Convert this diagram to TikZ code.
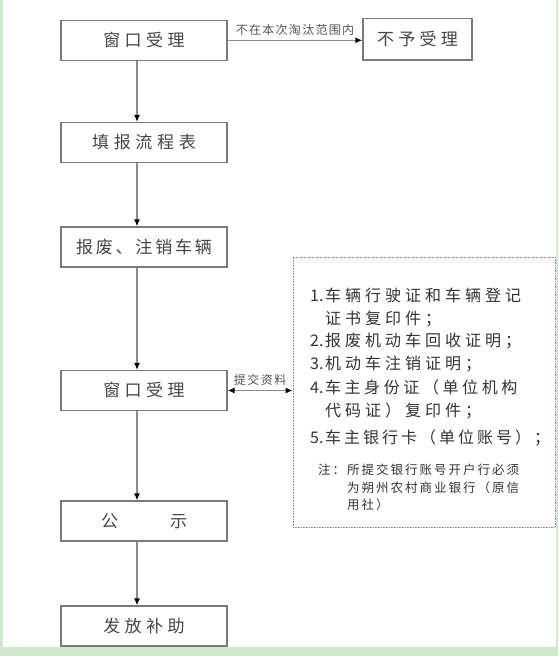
\documentclass[tikz,border=0pt]{standalone}
\usepackage{fontspec}
\setmainfont{Noto Sans CJK SC}
\usetikzlibrary{arrows.meta}
\definecolor{bggreen}{HTML}{CFE8CC}
\definecolor{boxgray}{HTML}{7A7A7A}
\definecolor{linegray}{HTML}{8C8C8C}
\definecolor{txtgray}{HTML}{454545}
\definecolor{listtxt}{HTML}{333333}
\definecolor{lbltxt}{HTML}{555555}
\makeatletter
\newcommand\spx[2]{\def\spx@a{#1}\spx@first#2\spx@end}
\def\spx@end{\spx@end}
\def\spx@first#1{#1\spx@loop}
\def\spx@loop#1{\ifx#1\spx@end\else\hspace{\spx@a}#1\expandafter\spx@loop\fi}
\makeatother
\begin{document}
\begin{tikzpicture}[x=1pt,y=-1pt,
  box/.style={draw=boxgray, line width=1.2pt, minimum width=166pt, minimum height=40pt, inner sep=0pt, font=\fontsize{17}{20}\selectfont, text=txtgray},
  conn/.style={draw=linegray, line width=1.4pt, -{Latex[length=7pt,width=6pt,color=black]}},
  dconn/.style={draw=linegray, line width=1.4pt, {Latex[length=7pt,width=6pt,color=black]}-{Latex[length=7pt,width=6pt,color=black]}},
  lbl/.style={font=\fontsize{12}{14}\selectfont, text=lbltxt, inner sep=0pt},
  listline/.style={anchor=base west, inner sep=0pt, font=\fontsize{16}{18}\selectfont, text=listtxt},
  noteline/.style={anchor=base west, inner sep=0pt, font=\fontsize{12.5}{14}\selectfont, text=listtxt},
  listframe/.style={draw=linegray, line width=0.8pt, dash pattern=on 0.8pt off 0.8pt, minimum width=262pt, minimum height=270pt, inner sep=0pt}]
\useasboundingbox (0,0) rectangle (558,656);
\fill[bggreen] (0,0) rectangle (558,656);
\fill[white] (2.5,0) rectangle (556,647);

\node[box] (b1) at (144,40.3) {\spx{4.5pt}{窗口受理}};
\node[box, minimum width=109pt, minimum height=41.5pt] (no) at (417.5,39.3) {\spx{4.3pt}{不予受理}};
\node[box] (b2) at (144,142.5) {\spx{4.7pt}{填报流程表}};
\node[box] (b3) at (144,247) {\spx{2.8pt}{报废、注销车辆}};
\node[box] (b4) at (144,390.5) {\spx{4.5pt}{窗口受理}};
\node[box] (b5) at (144,521) {公\hspace{52pt}示};
\node[box] (b6) at (144,626) {\spx{4.5pt}{发放补助}};

\node[listframe] (lf) at (424,392) {};

\node[listline] (l1) at (310,301) {1.\hspace{1.5pt}\spx{4pt}{车辆行驶证和车辆登记}};
\node[listline] (l2) at (325,324) {\spx{4pt}{证书复印件；}};
\node[listline] (l3) at (310,346) {2.\hspace{1.5pt}\spx{4pt}{报废机动车回收证明；}};
\node[listline] (l4) at (310,369) {3.\hspace{1.5pt}\spx{4pt}{机动车注销证明；}};
\node[listline] (l5) at (310,393) {4.\hspace{1.5pt}\spx{3.6pt}{车主身份证（单位机构}};
\node[listline] (l6) at (325,416) {\spx{4pt}{代码证）复印件；}};
\node[listline] (l7) at (310,443) {5.\hspace{1.5pt}\spx{3pt}{车主银行卡（单位账号）；}};
\node[noteline] (n1) at (318,474.8) {\spx{2pt}{注：所提交银行账号开户行必须}};
\node[noteline] (n2) at (347,492.8) {\spx{2pt}{为朔州农村商业银行（原信}};
\node[noteline] (n3) at (347,509.8) {\spx{2pt}{用社）}};

\draw[conn] (b1.east) -- node[lbl, midway, yshift=10pt] (t1) {\spx{1.3pt}{不在本次淘汰范围内}} (b1.east -| no.west);
\draw[dconn] (b4.east) -- node[lbl, midway, yshift=11pt] (t2) {\spx{1.5pt}{提交资料}} (b4.east -| lf.west);

\draw[conn] ([xshift=-7pt]b1.south) -- ([xshift=-7pt]b2.north);
\draw[conn] ([xshift=-7pt]b2.south) -- ([xshift=-7pt]b3.north);
\draw[conn] ([xshift=-7pt]b3.south) -- ([xshift=-7pt]b4.north);
\draw[conn] ([xshift=-7pt]b4.south) -- ([xshift=-7pt]b5.north);
\draw[conn] ([xshift=-7pt]b5.south) -- ([xshift=-7pt]b6.north);
\end{tikzpicture}
\end{document}
